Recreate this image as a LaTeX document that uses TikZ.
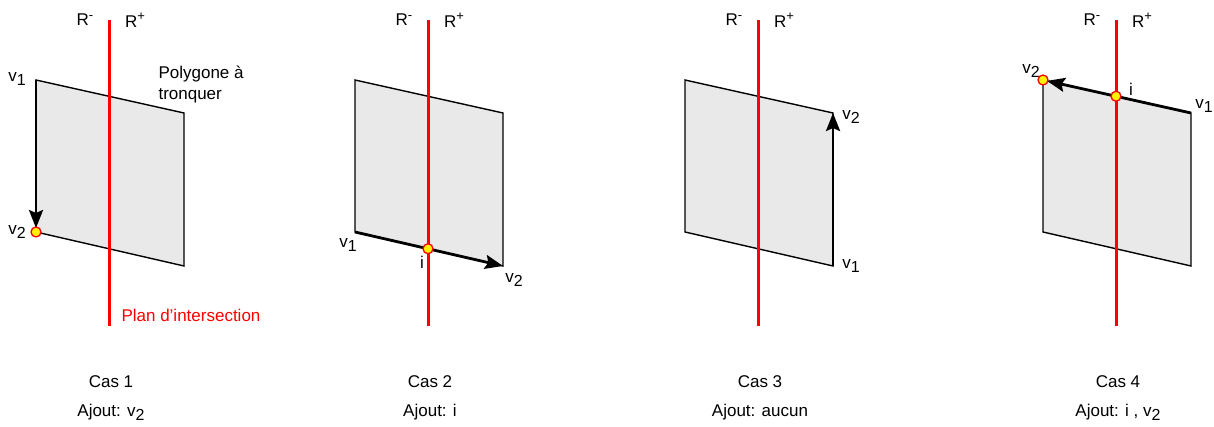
\documentclass[tikz,border=0pt]{standalone}
\usepackage{fontspec}
\setmainfont{Liberation Sans}
\usetikzlibrary{arrows.meta}
\definecolor{polygray}{RGB}{233,233,233}
\newcommand{\vsub}[1]{\raisebox{-0.55ex}{\fontsize{16}{16}\selectfont #1}}
\newcommand{\rsup}[1]{\raisebox{0.75ex}{\fontsize{13}{13}\selectfont #1}}

\begin{document}
\begin{tikzpicture}[
  x=1pt, y=-1pt,
  font=\fontsize{17}{21}\selectfont,
  >={Stealth[length=18pt, width=14pt, inset=3pt]},
  poly/.style={draw=black, line width=1.4pt, fill=polygray},
  plane/.style={draw=red, line width=3pt},
  edge/.style={->, line width=2.8pt},
  dot/.style={circle, draw=red, fill=yellow, line width=1.3pt, inner sep=0pt, minimum size=10pt},
]
\useasboundingbox (0,0) rectangle (1214,427);

% one panel per case
\foreach \n/\x in {1/36, 2/355, 3/685, 4/1043}{
  \coordinate (tl\n) at (\x,80);
  \coordinate (tr\n) at (\x+148,113);
  \coordinate (br\n) at (\x+148,266);
  \coordinate (bl\n) at (\x,232);
  \coordinate (top\n) at (\x+73,20);
  \coordinate (bot\n) at (\x+73,326);
  \draw[poly] (tl\n) -- (tr\n) -- (br\n) -- (bl\n) -- cycle;
  \draw[plane] (top\n) -- (bot\n);
  \node (rm\n) at (\x+49,20) {R\rsup{-}};
  \node (rp\n) at (\x+99,20) {R\rsup{+}};
  \node[anchor=base] (cas\n) at (\x+75,387) {Cas \n};
}

% Cas 1
\node (v1a) at (17,79) {v\vsub{1}};
\node (v2a) at (17,232) {v\vsub{2}};
\node[align=left, anchor=west] (polylbl) at (155,85) {Polygone à\\tronquer};
\node[anchor=west, text=red] (planlbl) at (118,315) {Plan d’intersection};
\node[anchor=base] (ajout1) at (111,416) {Ajout: v\vsub{2}};
\draw[edge, shorten >=4pt] (tl1) -- (bl1);
\node[dot] (da) at (bl1) {};

% Cas 2
\node (v1b) at (348,245) {v\vsub{1}};
\node (ib) at (422,262) {i};
\node (v2b) at (514,280) {v\vsub{2}};
\node[anchor=base] (ajout2) at (430,416) {Ajout: i};
\draw[edge] (bl2) -- (br2);
\coordinate (i2) at (intersection of bl2--br2 and top2--bot2);
\node[dot] (db) at (i2) {};

% Cas 3
\node (v2c) at (851,117) {v\vsub{2}};
\node (v1c) at (851,266) {v\vsub{1}};
\node[anchor=base] (ajout3) at (760,416) {Ajout: aucun};
\draw[edge] (br3) -- (tr3);

% Cas 4
\node (v2d) at (1031,71) {v\vsub{2}};
\node (id) at (1131,89) {i};
\node (v1d) at (1204,106) {v\vsub{1}};
\node[anchor=base] (ajout4) at (1118,416) {Ajout: i , v\vsub{2}};
\draw[edge, shorten >=4pt] (tr4) -- (tl4);
\coordinate (i4) at (intersection of tl4--tr4 and top4--bot4);
\node[dot] (dd) at (i4) {};
\node[dot] (de) at (tl4) {};
\end{tikzpicture}
\end{document}
